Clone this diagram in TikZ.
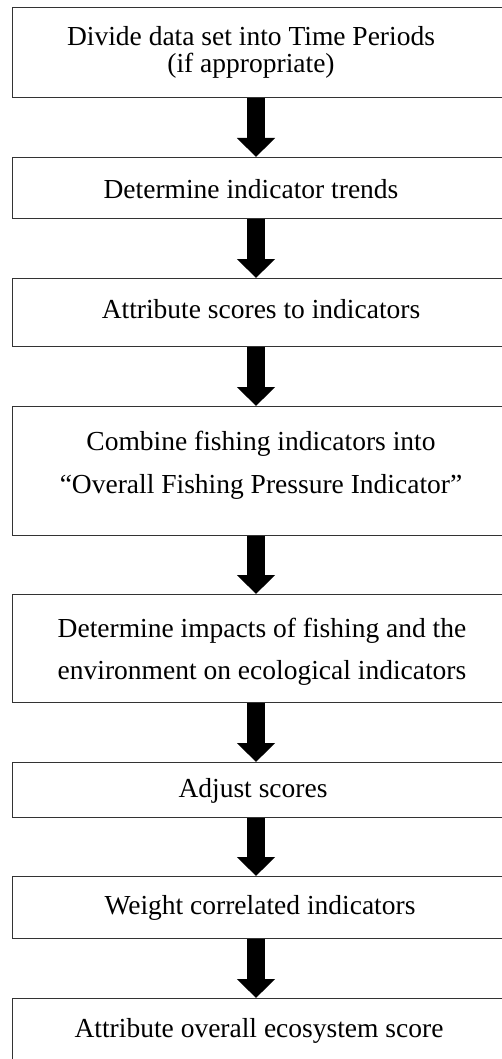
\documentclass[tikz,border=0pt]{standalone}
\usepackage{fontspec}
\setmainfont{Liberation Serif}
\usetikzlibrary{arrows.meta}
\begin{document}
\begin{tikzpicture}[x=1pt,y=-1pt,
  box/.style={draw=black!80, line width=1pt, minimum width=500pt, inner sep=0pt, anchor=north west},
  lbl/.style={font=\fontsize{27.5}{30}\selectfont, anchor=base, inner sep=0pt},
  arr/.style={line width=18pt, -{Triangle[width=37pt,length=19pt]}}]
\useasboundingbox (0,0) rectangle (502,1059);
\clip (0,0) rectangle (502,1059);
\coordinate (ax) at (256,0);
% boxes
\node[box, minimum height=90pt] (b1) at (12,7) {};
\node[box, minimum height=61pt] (b2) at (12,157) {};
\node[box, minimum height=68pt] (b3) at (12,278) {};
\node[box, minimum height=129pt] (b4) at (12,406) {};
\node[box, minimum height=108pt] (b5) at (12,594) {};
\node[box, minimum height=55pt] (b6) at (12,762) {};
\node[box, minimum height=62pt] (b7) at (12,876) {};
\node[box, minimum height=70pt] (b8) at (12,998) {};
% labels
\node[lbl] (t1a) at (251,46) {Divide data set into Time Periods};
\node[lbl] (t1b) at (251,73) {(if appropriate)};
\node[lbl] (t2) at (251,199) {Determine indicator trends};
\node[lbl] (t3) at (261,318) {Attribute scores to indicators};
\node[lbl] (t4a) at (261,450) {Combine fishing indicators into};
\node[lbl] (t4b) at (261,493) {``Overall Fishing Pressure Indicator''};
\node[lbl] (t5a) at (262,637) {Determine impacts of fishing and the};
\node[lbl] (t5b) at (262,679) {environment on ecological indicators};
\node[lbl] (t6) at (253,797) {Adjust scores};
\node[lbl] (t7) at (260,914) {Weight correlated indicators};
\node[lbl] (t8) at (259,1037) {Attribute overall ecosystem score};
% arrows
\draw[arr] (b1.south -| ax) -- (b2.north -| ax);
\draw[arr] (b2.south -| ax) -- (b3.north -| ax);
\draw[arr] (b3.south -| ax) -- (b4.north -| ax);
\draw[arr] (b4.south -| ax) -- (b5.north -| ax);
\draw[arr] (b5.south -| ax) -- (b6.north -| ax);
\draw[arr] (b6.south -| ax) -- (b7.north -| ax);
\draw[arr] (b7.south -| ax) -- (b8.north -| ax);
\end{tikzpicture}
\end{document}
